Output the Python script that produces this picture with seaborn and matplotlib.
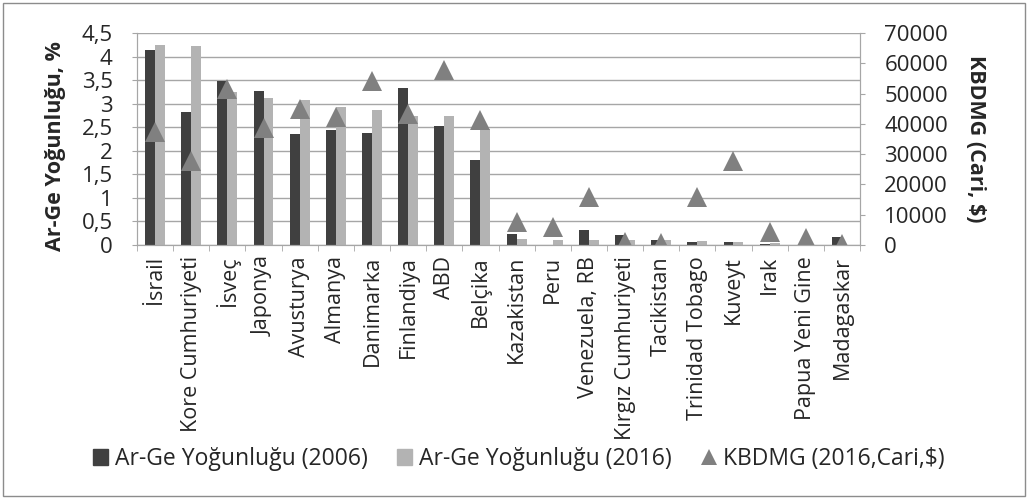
import numpy as np
import pandas as pd
import matplotlib
matplotlib.use('Agg')
import matplotlib.pyplot as plt
import seaborn as sns
from matplotlib.patches import Patch, Rectangle
from matplotlib.lines import Line2D
from matplotlib.ticker import FuncFormatter, MultipleLocator, FixedLocator

# Countries (x axis)
countries = ['İsrail', 'Kore Cumhuriyeti', 'İsveç', 'Japonya', 'Avusturya', 'Almanya',
             'Danimarka', 'Finlandiya', 'ABD', 'Belçika', 'Kazakistan', 'Peru',
             'Venezuela, RB', 'Kırgız Cumhuriyeti', 'Tacikistan', 'Trinidad Tobago',
             'Kuveyt', 'Irak', 'Papua Yeni Gine', 'Madagaskar']

# R&D intensity, % of GDP
rd_2006 = [4.13, 2.82, 3.49, 3.27, 2.35, 2.45, 2.38, 3.33, 2.53, 1.80,
           0.23, 0.0, 0.31, 0.22, 0.10, 0.06, 0.07, 0.03, 0.0, 0.16]
rd_2016 = [4.24, 4.22, 3.24, 3.13, 3.07, 2.93, 2.86, 2.73, 2.73, 2.46,
           0.13, 0.11, 0.11, 0.10, 0.10, 0.09, 0.07, 0.04, 0.0, 0.01]

# GDP per capita 2016 (current $)
gdp_2016 = [37300, 27600, 51400, 38600, 45000, 42300, 54300, 43200, 57800, 41200,
            7600, 5950, 16000, 1100, 800, 15700, 27600, 4400, 2400, 400]

sns.set_style('white')
plt.rcParams['font.family'] = ['Open Sans', 'DejaVu Sans']

n = len(countries)
df = pd.DataFrame({
    'Ülke': countries * 2,
    'Yıl': ['2006'] * n + ['2016'] * n,
    'Yoğunluk': rd_2006 + rd_2016,
})

dark = '#404040'
light = '#b3b3b3'
tri = '#808080'
grid = '#a6a6a6'

fig = plt.figure(figsize=(10.28, 4.99), dpi=100)
ax = fig.add_axes([137 / 1028, 1 - 245 / 499, (860 - 137) / 1028, (245 - 33) / 499])

sns.barplot(data=df, x='Ülke', y='Yoğunluk', hue='Yıl', palette=[dark, light],
            width=0.55, saturation=1, linewidth=0, legend=False, ax=ax)

ax2 = ax.twinx()
sns.pointplot(x=countries, y=gdp_2016, ax=ax2, linestyle='none', markers='^',
              color=tri, markersize=14, markeredgewidth=0, errorbar=None)

# left axis
ax.set_ylim(0, 4.5)
ax.yaxis.set_major_locator(MultipleLocator(0.5))
ax.yaxis.set_major_formatter(FuncFormatter(lambda v, p: ('%g' % v).replace('.', ',')))
ax.yaxis.grid(True, color=grid, lw=1)
ax.set_axisbelow(True)
ax.set_xlabel('')
ax.set_ylabel('')
ax.tick_params(axis='y', length=3.5, color=grid, labelsize=16, pad=14, left=True)

# x axis: labels at centres, tick marks between categories
ax.set_xlim(-0.5, n - 0.5)
ax.xaxis.set_major_locator(FixedLocator(np.arange(n)))
ax.set_xticklabels(countries, rotation=90, fontsize=15.5)
ax.xaxis.set_minor_locator(FixedLocator(np.arange(n + 1) - 0.5))
ax.tick_params(axis='x', which='major', length=0, pad=8)
ax.tick_params(axis='x', which='minor', length=4, color=grid, bottom=True)

# right axis
ax2.set_ylim(0, 70000)
ax2.yaxis.set_major_locator(MultipleLocator(10000))
ax2.tick_params(axis='y', length=3.5, color=grid, labelsize=16, pad=14, right=True)
ax2.set_ylabel('')
ax2.set_xlabel('')

for a in (ax, ax2):
    a.spines['top'].set_visible(False)
    for side in ['left', 'right', 'bottom']:
        a.spines[side].set_color(grid)

fig.text(56 / 1028, 1 - 146 / 499, 'Ar-Ge Yoğunluğu, %', rotation=90, ha='center',
         va='center', fontsize=15.5, fontweight='bold')
fig.text(975 / 1028, 1 - 139 / 499, r'KBDMG (Cari, \$)', rotation=270, ha='center',
         va='center', fontsize=15.5, fontweight='bold')

handles = [Patch(color=dark), Patch(color=light),
           Line2D([], [], marker='^', ls='none', color=tri, markersize=12, markeredgewidth=0)]
labels = ['Ar-Ge Yoğunluğu (2006)', 'Ar-Ge Yoğunluğu (2016)', r'KBDMG (2016,Cari,\$)']
fig.legend(handles, labels, loc='center', bbox_to_anchor=(519 / 1028, 1 - 459 / 499),
           ncol=3, frameon=False, fontsize=16.5, handlelength=0.65, handleheight=0.65,
           handletextpad=0.3, columnspacing=1.3)

fig.patches.append(Rectangle((3 / 1028, 3 / 499), 1022 / 1028, 493 / 499, fill=False,
                             edgecolor='#8c8c8c', lw=1, transform=fig.transFigure))

fig.savefig('out.png', dpi=100)
